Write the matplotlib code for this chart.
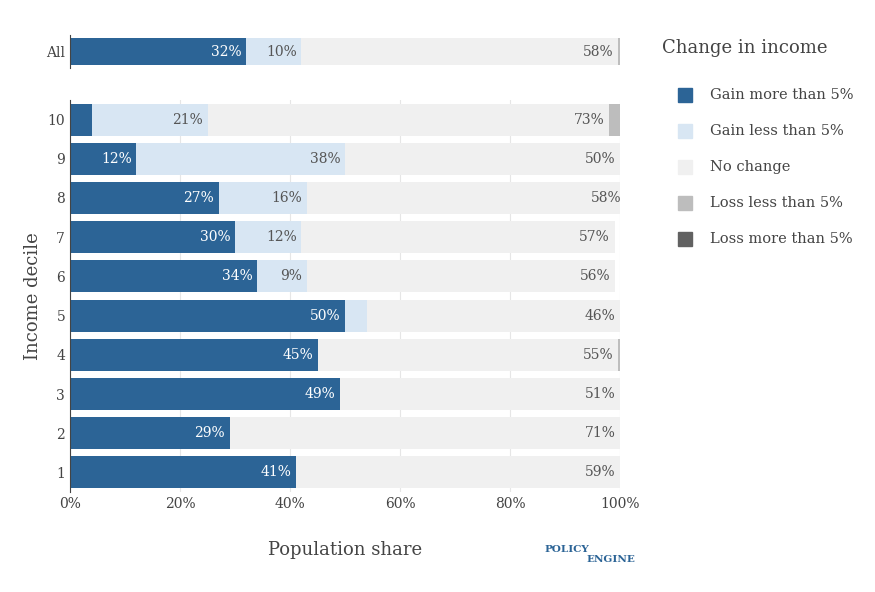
import numpy as np
import matplotlib.pyplot as plt

deciles = ['1', '2', '3', '4', '5', '6', '7', '8', '9', '10']
gain_more = [41, 29, 49, 45, 50, 34, 30, 27, 12, 4]
gain_less = [0, 0, 0, 0, 4, 9, 12, 16, 38, 21]
no_change = [59, 71, 51, 54.6, 46, 56, 57, 58, 50, 73]
loss_less = [0, 0, 0, 0.4, 0, 0, 0, 0, 0, 2]
loss_more = [0] * 10

all_vals = [32, 10, 57.7, 0.3, 0]

names = ['Gain more than 5%', 'Gain less than 5%', 'No change',
         'Loss less than 5%', 'Loss more than 5%']
colors = ['#2c6496', '#d8e6f3', '#f0f0f0', '#bdbdbd', '#616161']
txt_colors = ['white', '#555555', '#555555', '#555555', 'white']

plt.rcParams['font.family'] = ['DejaVu Serif']
fig = plt.figure(figsize=(8.75, 5.92), dpi=100)
ax_all = fig.add_axes([70/875, 1-68/592, 550/875, 33/592])
ax = fig.add_axes([70/875, 1-492/592, 550/875, 392/592])


def draw(a, ys, series):
    left = np.zeros(len(ys))
    for i, vals in enumerate(series):
        vals = np.array(vals, dtype=float)
        a.barh(ys, vals, left=left, height=0.82, color=colors[i], zorder=2)
        for y, l, v in zip(ys, left, vals):
            if v >= 5:
                shown = int(round(v))
                a.text(l + v - 0.8, y, f'{shown}%', ha='right', va='center',
                       fontsize=10, color=txt_colors[i], zorder=3)
        left += vals


ys = np.arange(10)
draw(ax, ys, [gain_more, gain_less, no_change, loss_less, loss_more])
draw(ax_all, [0], [[v] for v in all_vals])

for a in (ax, ax_all):
    a.set_xlim(0, 100)
    for s in ['top', 'right', 'bottom']:
        a.spines[s].set_visible(False)
    a.spines['left'].set_color('#444444')
    a.tick_params(length=0, labelsize=10, colors='#444444')

ax.set_ylim(-0.5, 9.5)
ax.set_yticks(ys)
ax.set_yticklabels(deciles)
ax.set_xticks([0, 20, 40, 60, 80, 100])
ax.set_xticklabels(['0%', '20%', '40%', '60%', '80%', '100%'])
ax.grid(axis='x', color='#e6e6e6', zorder=0)
ax.set_ylabel('Income decile', fontsize=13, color='#444444')
ax.set_xlabel('Population share', fontsize=13, color='#444444', labelpad=22)

ax_all.set_ylim(-0.5, 0.5)
ax_all.set_yticks([0])
ax_all.set_yticklabels(['All'])
ax_all.set_xticks([])

fig.text(662/875, 1-48/592, 'Change in income', fontsize=13, color='#444444',
         va='center')
for i, n in enumerate(names):
    y = 1 - (95 + 36*i)/592
    fig.patches.append(plt.Rectangle((678/875, y - 7/592), 14/875, 14/592,
                                     color=colors[i], transform=fig.transFigure))
    fig.text(710/875, y, n, fontsize=10.5, color='#444444', va='center')

fig.text(544/875, 1-549/592, 'POLICY', fontsize=7.5, color='#2c6496',
         fontweight='bold', va='center')
fig.text(586/875, 1-559/592, 'ENGINE', fontsize=7.5, color='#2c6496',
         fontweight='bold', va='center')

fig.savefig('out.png', dpi=100, facecolor='white')
